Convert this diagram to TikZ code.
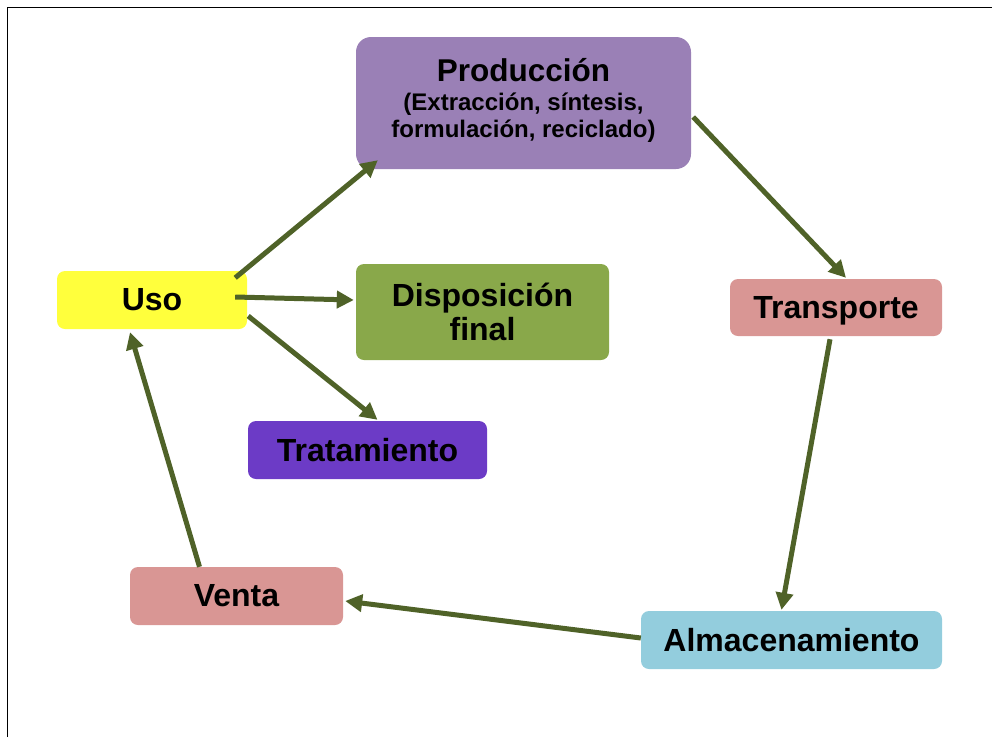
\documentclass[tikz,border=0pt]{standalone}
\usepackage{fontspec}
\setmainfont{Liberation Sans}
\usetikzlibrary{arrows.meta,calc}
\definecolor{cprod}{HTML}{9A80B6}
\definecolor{cdisp}{HTML}{89A84A}
\definecolor{ctrat}{HTML}{6C3BC6}
\definecolor{cpink}{HTML}{D99694}
\definecolor{calm}{HTML}{93CDDD}
\definecolor{cuso}{HTML}{FFFF3C}
\definecolor{carrow}{HTML}{4F6228}
\tikzset{
  box/.style={draw=none, rounded corners=8pt, inner sep=0pt, align=center,
    font=\fontsize{32}{34}\selectfont\bfseries},
  flow/.style={draw=carrow, line width=5pt, -{Triangle[length=17pt,width=17pt]}}
}
\begin{document}
\begin{tikzpicture}[x=1pt,y=-1pt]
\useasboundingbox (0,0) rectangle (992,737);
\draw[line width=1.5pt] (7.5,737) -- (7.5,7.5) -- (992,7.5);

\node[box, fill=cprod, rounded corners=15pt, minimum width=335pt, minimum height=132pt] (prod) at (523.5,103) {};
\node[align=center, inner sep=0pt, font=\fontsize{24}{27}\selectfont\bfseries, anchor=north] (prodtxt) at (523.5,58)
  {\fontsize{31.5}{31.5}\selectfont Producción\\[2pt] (Extracción, síntesis,\\formulación, reciclado)};
\node[box, fill=cuso, minimum width=190pt, minimum height=58pt] (uso) at (152,300) {Uso};
\node[box, fill=cdisp, minimum width=253pt, minimum height=96pt] (disp) at (482.5,312) {Disposición\\final};
\node[box, fill=ctrat, minimum width=239pt, minimum height=58pt] (trat) at (367.5,450) {Tratamiento};
\node[box, fill=cpink, minimum width=212pt, minimum height=57pt, text depth=0pt] (trans) at (836,307.5) {Transporte};
\node[box, fill=calm, minimum width=301pt, minimum height=58pt] (alm) at (791.5,640) {Almacenamiento};
\node[box, fill=cpink, minimum width=213pt, minimum height=58pt] (venta) at (236.5,596) {Venta};

\draw[flow] ([shift={(-12,7)}]uso.north east) -- ([shift={(22,-9)}]prod.south west);
\draw[flow] ([shift={(-12,-3)}]uso.east) -- ([shift={(-2,-12)}]disp.west);
\draw[flow] ([shift={(1,16)}]uso.east) -- ([shift={(10,-1)}]trat.north);
\draw[flow] ([shift={(2,14)}]prod.east) -- ([shift={(10,-1)}]trans.north);
\draw[flow] ([shift={(-6,3)}]trans.south) -- ([shift={(-10,-1)}]alm.north);
\draw[flow] ([shift={(0,-2)}]alm.west) -- ([shift={(2,5)}]venta.east);
\draw[flow] ([shift={(-37,0)}]venta.north) -- ([shift={(-22,3)}]uso.south);
\end{tikzpicture}
\end{document}
